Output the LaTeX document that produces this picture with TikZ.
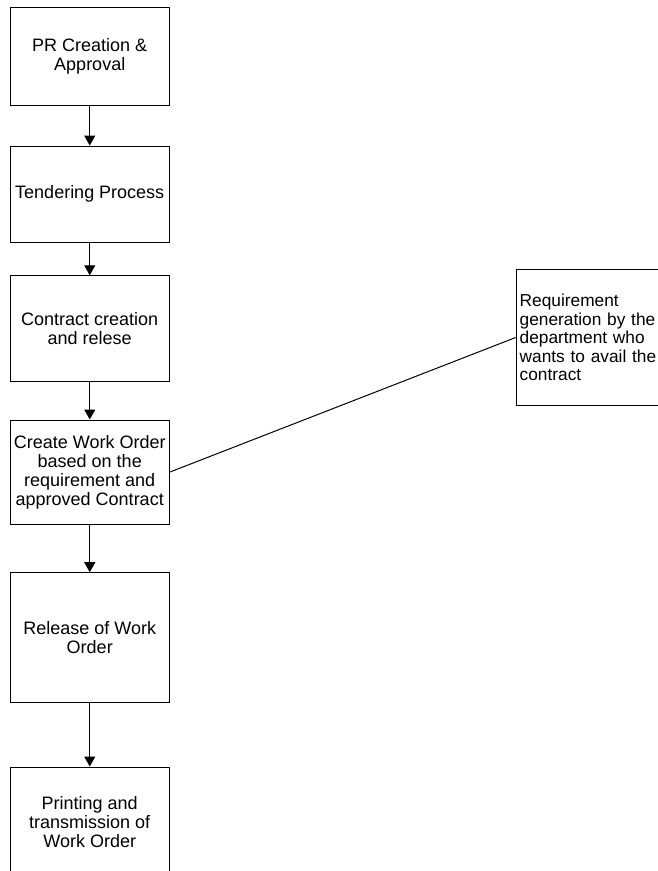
\documentclass[tikz,border=0pt]{standalone}
\usepackage{fontspec}
\setmainfont{Liberation Sans}
\usetikzlibrary{arrows.meta}
\begin{document}
\begin{tikzpicture}[x=1pt,y=-1pt,
  box/.style={draw=black, line width=1pt, minimum width=159.5pt, align=center, inner sep=2pt,
    font=\fontsize{18}{19}\selectfont},
  sidebox/.style={draw=black, line width=1pt, minimum width=194pt, minimum height=136pt,
    text width=187pt, align=left, inner xsep=3pt, font=\fontsize{17.3}{18.5}\selectfont},
  flow/.style={line width=1pt, -{Triangle[width=11pt,length=10pt]}},
  link/.style={line width=1pt}]
\useasboundingbox (0,0) rectangle (658,871);
\clip (0,0) rectangle (658,871);
\node[box, minimum height=97.7pt] (b1) at (89.75,56.2) {PR Creation \&\\Approval};
\node[box, minimum height=96.3pt] (b2) at (89.75,194.2) {Tendering Process};
\node[box, minimum height=105.3pt] (b3) at (89.75,328.4) {Contract creation\\and relese};
\node[box, minimum height=104pt] (b4) at (89.75,472) {Create Work Order\\based on the\\requirement and\\approved Contract};
\node[box, minimum height=130pt] (b5) at (89.75,637.7) {Release of Work\\Order};
\node[box, minimum height=110pt] (b6) at (89.75,822) {Printing and\\transmission of\\Work Order};
\node[sidebox, anchor=north west] (r) at (515.7,269) {Requirement\\generation by the\\department who\\wants to avail the\\contract};
\draw[flow] (b1) -- (b2);
\draw[flow] (b2) -- (b3);
\draw[flow] (b3) -- (b4);
\draw[flow] (b4) -- (b5);
\draw[flow] (b5) -- (b6);
\draw[link] (b4.east) -- (r.west);
\end{tikzpicture}
\end{document}
